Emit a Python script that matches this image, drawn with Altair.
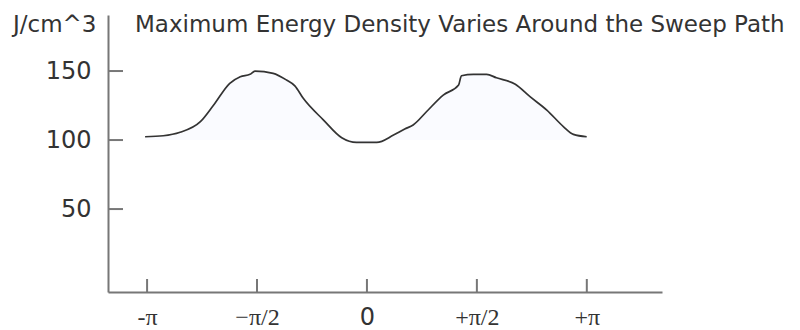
import math
import altair as alt
import pandas as pd

# Sweep angle (radians) and maximum energy density (J/cm^3)
theta = [-3.17, -2.91, -2.67, -2.38, -2.19, -1.96, -1.81, -1.67, -1.60, -1.34,
         -1.15, -1.03, -0.91, -0.62, -0.36, -0.15, 0.14, 0.38, 0.54, 0.66,
         0.85, 1.09, 1.31, 1.35, 1.52, 1.71, 1.85, 2.12, 2.33, 2.57,
         2.81, 2.95, 3.14]
energy = [102.4, 103.1, 105.6, 113.3, 125.4, 141.1, 145.9, 147.6, 150.0, 148.3,
          143.5, 139.3, 130.2, 114.5, 101.7, 98.3, 98.3, 103.6, 108.0, 110.9,
          120.5, 132.6, 139.9, 146.6, 147.6, 147.6, 145.1, 140.4, 131.4, 121.7,
          109.6, 104.1, 102.4]

x_tick_values = [-math.pi, -math.pi / 2, 0.0, math.pi / 2, math.pi]
x_tick_labels = ["-π", "−π/2", "0", "+π/2", "+π"]
y_tick_values = [50, 100, 150]
fill_base = [100]

title_text = "Maximum Energy Density Varies Around the Sweep Path"
unit_text = "J/cm^3"

df = pd.DataFrame({"theta": theta, "energy": energy})
df["base"] = fill_base[0]

# label expression built from the tick lists
expr = "''"
for v, lab in reversed(list(zip(x_tick_values, x_tick_labels))):
    expr = f"abs(datum.value - ({v})) < 0.01 ? '{lab}' : ({expr})"

AX = "#777777"
TXT = "#333333"

x_enc = alt.X(
    "theta:Q",
    scale=alt.Scale(domain=[-3.70, 4.216], nice=False, zero=False),
    axis=alt.Axis(values=x_tick_values, labelExpr=expr, ticks=False, grid=False,
                  title=None,
                  labelFont={"condition": {"test": "abs(datum.value) < 0.01", "value": "DejaVu Sans"},
                             "value": "Liberation Serif"},
                  labelFontSize=24,
                  labelPadding=13, labelColor=TXT, domainColor=AX, domainWidth=2,
                  labelFlush=False, labelOverlap=False),
)
y_enc = alt.Y(
    "energy:Q",
    scale=alt.Scale(domain=[-10.1, 190.6], nice=False, zero=False),
    axis=alt.Axis(values=y_tick_values, ticks=False, grid=False, title=None,
                  labelFont="DejaVu Sans", labelFontSize=24, labelPadding=17,
                  labelColor=TXT, domainColor=AX, domainWidth=2,
                  labelFlush=False, labelOverlap=False),
)

base = alt.Chart(df)
area = base.mark_area(color="#fafbff", interpolate="monotone").encode(x=x_enc, y=y_enc, y2="base:Q")
line = base.mark_line(color="#333333", strokeWidth=1.7, interpolate="monotone").encode(
    x="theta:Q", y="energy:Q")

ytick_df = pd.DataFrame({"energy": y_tick_values})
yticks = alt.Chart(ytick_df).mark_rule(color=AX, strokeWidth=2).encode(
    y="energy:Q", x=alt.value(0), x2=alt.value(15))
xtick_df = pd.DataFrame({"theta": x_tick_values})
xticks = alt.Chart(xtick_df).mark_rule(color=AX, strokeWidth=2).encode(
    x="theta:Q", y=alt.value(277), y2=alt.value(264))

title = alt.Chart(pd.DataFrame({"t": [title_text]})).mark_text(
    align="left", baseline="alphabetic", font="DejaVu Sans", fontSize=23, color=TXT
).encode(x=alt.value(27), y=alt.value(17), text="t:N")
unit = alt.Chart(pd.DataFrame({"t": [unit_text]})).mark_text(
    align="left", baseline="alphabetic", font="DejaVu Sans", fontSize=23, color=TXT
).encode(x=alt.value(-95), y=alt.value(17), text="t:N")

chart = alt.layer(area, line, yticks, xticks, title, unit).properties(
    width=554, height=277,
    padding={"left": 108, "top": 15, "right": 138, "bottom": 38},
    autosize=alt.AutoSizeParams(type="none"),
).configure_view(stroke=None)

chart.save("out.html", embed_options={"renderer": "svg", "actions": False})
